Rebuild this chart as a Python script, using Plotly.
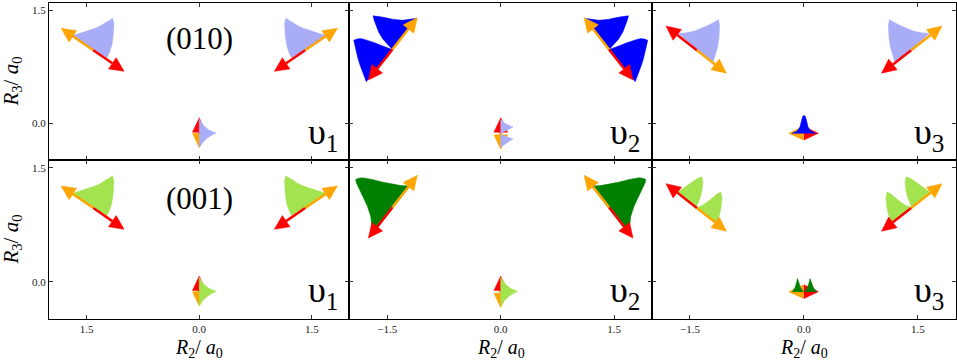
import math
import plotly.graph_objects as go

# ---------------- data ----------------
ROW_TAGS = ["(010)", "(001)"]
MODE_TAGS = ["υ<sub>1</sub>", "υ<sub>2</sub>", "υ<sub>3</sub>"]
X_TICKS = [-1.5, 0.0, 1.5]
X_TICKTEXT = [["1.5", "0.0", "1.5"], ["−1.5", "0.0", "1.5"], ["−1.5", "0.0", "1.5"]]
Y_TICKS = [0.0, 1.5]
Y_TICKTEXT = ["0.0", "1.5"]
X_RANGE = [-2.0, 2.0]
Y_RANGE = [-0.49, 1.595]

# displacement arrows of the left outer atom (the right atom is its mirror image)
SIDE_ATOM = [(-1.41, 0.97), (-1.434, 0.978), (-1.41, 0.97)]
SIDE_ORANGE_TIP = [(-1.84, 1.26), (-1.103, 1.40), (-1.02, 0.665)]
SIDE_RED_TIP = [(-1.0, 0.69), (-1.75, 0.575), (-1.816, 1.29)]
MIRROR_SWAPS_COLOURS = [False, False, True]
# central atom
CENTRE_ATOM = (0.0, -0.13)
CENTRE_ORANGE_TIP = [(0.0, -0.32), (0.0, -0.34), (-0.20, -0.13)]
CENTRE_RED_TIP = [(0.0, 0.075), (0.0, 0.075), (0.19, -0.13)]

# density lobes of the left outer atom (outline, data units)
V1_LOBE_X = [-1.70, -1.674, -1.60, -1.518, -1.385, -1.30, -1.252, -1.185, -1.154, -1.136, -1.140, -1.145, -1.163, -1.194, -1.229]
V1_LOBE_Y = [1.15, 1.169, 1.19, 1.213, 1.260, 1.30, 1.335, 1.370, 1.394, 1.324, 1.25, 1.16, 1.04, 0.94, 0.87]
V2_UPPER_X = [-1.434, -1.490, -1.560, -1.615, -1.650, -1.675, -1.689, -1.640, -1.587, -1.50, -1.434, -1.302, -1.22, -1.16, -1.124]
V2_UPPER_Y = [0.978, 1.040, 1.120, 1.210, 1.290, 1.370, 1.425, 1.420, 1.412, 1.395, 1.381, 1.366, 1.372, 1.385, 1.390]
V2_LOWER_X = [-1.778, -1.800, -1.831, -1.860, -1.888, -1.927, -1.944, -1.900, -1.852, -1.790, -1.720, -1.650, -1.587, -1.477, -1.434]
V2_LOWER_Y = [0.554, 0.610, 0.681, 0.770, 0.859, 1.013, 1.102, 1.118, 1.125, 1.110, 1.089, 1.062, 1.036, 0.992, 0.978]
V2_BIG_X = [-1.69, -1.700, -1.720, -1.764, -1.810, -1.852, -1.890, -1.910, -1.918, -1.880, -1.831, -1.760, -1.698, -1.566, -1.434, -1.32, -1.20]
V2_BIG_Y = [0.63, 0.740, 0.860, 0.995, 1.090, 1.171, 1.250, 1.303, 1.346, 1.362, 1.368, 1.360, 1.346, 1.311, 1.283, 1.265, 1.258]
V3_LOBE_X = [-1.65, -1.55, -1.45, -1.37, -1.28, -1.20, -1.15, -1.125, -1.11, -1.115, -1.12, -1.14, -1.17, -1.20]
V3_LOBE_Y = [1.19, 1.20, 1.22, 1.25, 1.29, 1.33, 1.36, 1.375, 1.30, 1.22, 1.12, 1.00, 0.88, 0.80]
V3_PAIR1_X = [-1.675, -1.587, -1.499, -1.41, -1.344, -1.331, -1.340, -1.366, -1.402, -1.419]
V3_PAIR1_Y = [1.166, 1.232, 1.297, 1.355, 1.382, 1.320, 1.211, 1.100, 1.013, 0.969]
V3_PAIR2_X = [-1.419, -1.323, -1.234, -1.146, -1.093, -1.079, -1.089, -1.111, -1.138, -1.146]
V3_PAIR2_Y = [0.969, 1.013, 1.079, 1.153, 1.179, 1.100, 0.991, 0.882, 0.816, 0.771]

# density lobes of the central atom
C_RIGHT_X = [0.0, 0.057, 0.124, 0.19, 0.226, 0.182, 0.111, 0.049, 0.013, 0.0]
C_RIGHT_Y = [0.06, -0.027, -0.084, -0.115, -0.128, -0.146, -0.19, -0.248, -0.305, -0.32]
C_RIGHT_UP_X = [0.0, 0.06, 0.12, 0.163, 0.12, 0.05, 0.0]
C_RIGHT_UP_Y = [0.05, 0.0, -0.03, -0.045, -0.07, -0.11, -0.128]
C_RIGHT_DN_X = [0.0, 0.05, 0.12, 0.163, 0.12, 0.06, 0.0]
C_RIGHT_DN_Y = [-0.146, -0.165, -0.19, -0.205, -0.23, -0.27, -0.314]
C_UP_X = [-0.155, -0.09, -0.053, -0.034, -0.017, 0.0, 0.017, 0.034, 0.053, 0.09, 0.155]
C_UP_Y = [-0.13, -0.10, -0.045, 0.04, 0.095, 0.105, 0.095, 0.04, -0.045, -0.10, -0.13]
C_UP_L_X = [-0.153, -0.12, -0.10, -0.087, -0.07, -0.045, -0.008]
C_UP_L_Y = [-0.13, -0.08, -0.02, 0.043, 0.0, -0.08, -0.13]
C_UP_R_X = [0.009, 0.045, 0.065, 0.079, 0.095, 0.125, 0.168]
C_UP_R_Y = [-0.13, -0.08, -0.02, 0.043, 0.0, -0.08, -0.13]

LIGHT_BLUE = "#a9adf7"
BLUE = "#0000ff"
LIGHT_GREEN = "#a4e350"
GREEN = "#008000"
ORANGE = "#ffa500"
RED = "#ff0000"

PANELS = [
    dict(row=0, col=0, side=[(V1_LOBE_X, V1_LOBE_Y)], side_c=LIGHT_BLUE,
         centre=[(C_RIGHT_X, C_RIGHT_Y)], centre_c=LIGHT_BLUE),
    dict(row=0, col=1, side=[(V2_UPPER_X, V2_UPPER_Y), (V2_LOWER_X, V2_LOWER_Y)], side_c=BLUE,
         centre=[(C_RIGHT_UP_X, C_RIGHT_UP_Y), (C_RIGHT_DN_X, C_RIGHT_DN_Y)], centre_c=LIGHT_BLUE),
    dict(row=0, col=2, side=[(V3_LOBE_X, V3_LOBE_Y)], side_c=LIGHT_BLUE,
         centre=[(C_UP_X, C_UP_Y)], centre_c=BLUE),
    dict(row=1, col=0, side=[(V1_LOBE_X, V1_LOBE_Y)], side_c=LIGHT_GREEN,
         centre=[(C_RIGHT_X, C_RIGHT_Y)], centre_c=LIGHT_GREEN),
    dict(row=1, col=1, side=[(V2_BIG_X, V2_BIG_Y)], side_c=GREEN,
         centre=[(C_RIGHT_X, C_RIGHT_Y)], centre_c=LIGHT_GREEN),
    dict(row=1, col=2, side=[(V3_PAIR1_X, V3_PAIR1_Y), (V3_PAIR2_X, V3_PAIR2_Y)], side_c=LIGHT_GREEN,
         centre=[(C_UP_L_X, C_UP_L_Y), (C_UP_R_X, C_UP_R_Y)], centre_c=GREEN),
]

# ---------------- layout constants ----------------
COL_DOMAINS = [[0.0, 0.3313], [0.3313, 0.6648], [0.6648, 1.0]]
ROW_DOMAINS = [[0.5016, 1.0], [0.0, 0.5016]]
HEAD_LEN = 0.19
HEAD_HALF = 0.09
SERIF = "Liberation Serif"


def arrow_geometry(start, tip):
    dx, dy = tip[0] - start[0], tip[1] - start[1]
    n = math.hypot(dx, dy)
    ux, uy = dx / n, dy / n
    nx, ny = -uy, ux
    bx, by = tip[0] - HEAD_LEN * ux, tip[1] - HEAD_LEN * uy
    shaft = ([start[0], bx], [start[1], by])
    head = ([tip[0], bx + HEAD_HALF * nx, bx - HEAD_HALF * nx, tip[0]],
            [tip[1], by + HEAD_HALF * ny, by - HEAD_HALF * ny, tip[1]])
    return shaft, head


def add_arrows(fig, arrows, colour, xa, ya):
    sx, sy, hx, hy = [], [], [], []
    for start, tip in arrows:
        (a, b), (c, d) = arrow_geometry(start, tip)
        sx += a + [None]; sy += b + [None]
        hx += c + [None]; hy += d + [None]
    fig.add_trace(go.Scatter(x=sx, y=sy, mode="lines", line=dict(color=colour, width=2.5),
                             xaxis=xa, yaxis=ya, hoverinfo="skip", showlegend=False))
    fig.add_trace(go.Scatter(x=hx, y=hy, mode="lines", fill="toself", fillcolor=colour,
                             line=dict(color=colour, width=0.5),
                             xaxis=xa, yaxis=ya, hoverinfo="skip", showlegend=False))


def add_lobes(fig, lobes, colour, xa, ya):
    xs, ys = [], []
    for lx, ly in lobes:
        xs += list(lx) + [lx[0], None]
        ys += list(ly) + [ly[0], None]
    fig.add_trace(go.Scatter(x=xs, y=ys, mode="lines", fill="toself", fillcolor=colour,
                             line=dict(color=colour, width=0.5),
                             xaxis=xa, yaxis=ya, hoverinfo="skip", showlegend=False))


fig = go.Figure()
layout = {}
annotations = []

for i, p in enumerate(PANELS):
    k = i + 1
    xa = "x" if k == 1 else f"x{k}"
    ya = "y" if k == 1 else f"y{k}"
    col, row = p["col"], p["row"]

    # central atom arrows first (lobes sit on top of them)
    add_arrows(fig, [(CENTRE_ATOM, CENTRE_ORANGE_TIP[col])], ORANGE, xa, ya)
    add_arrows(fig, [(CENTRE_ATOM, CENTRE_RED_TIP[col])], RED, xa, ya)
    add_lobes(fig, p["centre"], p["centre_c"], xa, ya)

    # outer atoms: lobes, then arrows
    side_lobes = list(p["side"]) + [([-v for v in lx], ly) for lx, ly in p["side"]]
    add_lobes(fig, side_lobes, p["side_c"], xa, ya)

    atom = SIDE_ATOM[col]
    o_tip = SIDE_ORANGE_TIP[col]
    r_tip = SIDE_RED_TIP[col]
    m_atom = (-atom[0], atom[1])
    m_o = (-o_tip[0], o_tip[1])
    m_r = (-r_tip[0], r_tip[1])
    if MIRROR_SWAPS_COLOURS[col]:
        m_o, m_r = m_r, m_o
    add_arrows(fig, [(atom, o_tip), (m_atom, m_o)], ORANGE, xa, ya)
    add_arrows(fig, [(atom, r_tip), (m_atom, m_r)], RED, xa, ya)

    axis_common = dict(showline=True, linecolor="black", linewidth=1, mirror="allticks",
                       ticks="inside", ticklen=4, tickcolor="#333333", tickwidth=1,
                       showgrid=False, zeroline=False,
                       tickfont=dict(family=SERIF, size=11, color="#222222"))
    layout["xaxis" if k == 1 else f"xaxis{k}"] = dict(
        axis_common, domain=COL_DOMAINS[col], anchor=ya, range=X_RANGE,
        tickmode="array", tickvals=X_TICKS, ticktext=X_TICKTEXT[col],
        showticklabels=(row == 1))
    layout["yaxis" if k == 1 else f"yaxis{k}"] = dict(
        axis_common, domain=ROW_DOMAINS[row], anchor=xa, range=Y_RANGE,
        tickmode="array", tickvals=Y_TICKS, ticktext=Y_TICKTEXT,
        showticklabels=(col == 0))

    annotations.append(dict(text=MODE_TAGS[col], x=1.87, y=-0.14, xref=xa, yref=ya,
                            xanchor="right", yanchor="middle", showarrow=False,
                            font=dict(family=SERIF, size=36, color="black")))
    if col == 0:
        annotations.append(dict(text=ROW_TAGS[row], x=0.0, y=1.12 if row == 0 else 1.10,
                                xref=xa, yref=ya, xanchor="center", yanchor="middle",
                                showarrow=False, font=dict(family=SERIF, size=31, color="black")))
        yc = sum(ROW_DOMAINS[row]) / 2
        annotations.append(dict(text="<i>R</i><sub>3</sub>/ <i>a</i><sub>0</sub>", x=-0.041, y=yc,
                                xref="paper", yref="paper", textangle=-90,
                                xanchor="center", yanchor="middle", showarrow=False,
                                font=dict(family=SERIF, size=21, color="black")))
    if row == 1:
        xc = sum(COL_DOMAINS[col]) / 2
        annotations.append(dict(text="<i>R</i><sub>2</sub>/ <i>a</i><sub>0</sub>", x=xc, y=-0.094,
                                xref="paper", yref="paper",
                                xanchor="center", yanchor="middle", showarrow=False,
                                font=dict(family=SERIF, size=20, color="black")))

fig.update_layout(width=957, height=361, margin=dict(l=49, r=1, t=3, b=42),
                  paper_bgcolor="white", plot_bgcolor="white",
                  annotations=annotations, **layout)
fig.write_html("out.html", config={"displayModeBar": False},
               post_script="document.body.style.margin='0';document.body.style.padding='0';")
